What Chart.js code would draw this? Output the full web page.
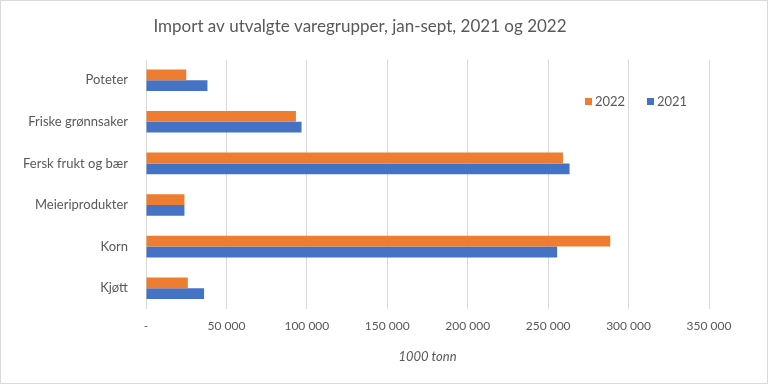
<!DOCTYPE html>
<html>
<head>
<meta charset="utf-8">
<script src="https://cdn.jsdelivr.net/npm/chart.js@4/dist/chart.umd.min.js"></script>
<style>
  html, body { margin: 0; padding: 0; background: #fff; }
  #wrap { width: 766px; height: 382px; border: 1px solid #d9d9d9; }
</style>
</head>
<body>
<div id="wrap"><canvas id="barChart" width="766" height="382"></canvas></div>
<script>
// Kategorier og verdier (1000 tonn), lest av figuren
const categories = ['Poteter', 'Friske grønnsaker', 'Fersk frukt og bær', 'Meieriprodukter', 'Korn', 'Kjøtt'];
const values2022 = [25000, 93200, 259200, 23900, 288600, 26000];
const values2021 = [38200, 96700, 263300, 23900, 255600, 36100];
const seriesLabels = ['2022', '2021'];
const tickMax = 350000;
const tickStep = 50000;

const textColor = '#595959';
const fontFamily = 'Lato, "Open Sans", sans-serif';

// Format tall med mellomrom som tusenskille
function formatTick(v) {
    if (v === 0) return '-';
    return String(v).replace(/\B(?=(\d{3})+(?!\d))/g, ' ');
}

// Tegn legenden inne i plottområdet, slik som i originalen
const insideLegend = {
    id: 'insideLegend',
    afterDraw(chart) {
        const ctx = chart.ctx;
        const items = chart.data.datasets;
        let x = 584;
        const y = 100;
        ctx.save();
        ctx.font = '13px ' + fontFamily;
        ctx.textBaseline = 'middle';
        items.forEach(ds => {
            ctx.fillStyle = ds.backgroundColor;
            ctx.fillRect(x, y - 3, 7, 7);
            ctx.fillStyle = textColor;
            ctx.fillText(ds.label, x + 10, y + 1);
            x += 62;
        });
        ctx.restore();
    }
};

const ctx = document.getElementById('barChart').getContext('2d');
new Chart(ctx, {
    type: 'bar',
    data: {
        labels: categories,
        datasets: [{
            label: seriesLabels[0],
            data: values2022,
            backgroundColor: '#ED7D31',
            barPercentage: 1,
            categoryPercentage: 0.52
        }, {
            label: seriesLabels[1],
            data: values2021,
            backgroundColor: '#4472C4',
            barPercentage: 1,
            categoryPercentage: 0.52
        }]
    },
    plugins: [insideLegend],
    options: {
        indexAxis: 'y',
        responsive: false,
        animation: false,
        layout: {
            padding: { left: 10, right: 58, top: 10, bottom: 14 }
        },
        plugins: {
            legend: { display: false },
            tooltip: { enabled: false },
            title: {
                display: true,
                text: 'Import av utvalgte varegrupper, jan-sept, 2021 og 2022',
                color: textColor,
                font: { family: fontFamily, size: 17, weight: 'normal' },
                padding: { top: 5, bottom: 23 }
            }
        },
        scales: {
            x: {
                min: 0,
                max: tickMax,
                ticks: {
                    stepSize: tickStep,
                    color: textColor,
                    font: { family: fontFamily, size: 12 },
                    padding: 10,
                    callback: v => formatTick(v)
                },
                grid: { color: '#d9d9d9', lineWidth: 1, drawTicks: false },
                border: { display: false },
                title: {
                    display: true,
                    text: '1000 tonn',
                    color: textColor,
                    font: { family: fontFamily, size: 13, style: 'italic' },
                    padding: { top: 6 }
                }
            },
            y: {
                ticks: {
                    color: textColor,
                    font: { family: fontFamily, size: 13 },
                    padding: 10
                },
                grid: { display: false },
                border: { display: false },
                afterFit(scale) { scale.width = 135; }
            }
        }
    }
});
</script>
</body>
</html>
